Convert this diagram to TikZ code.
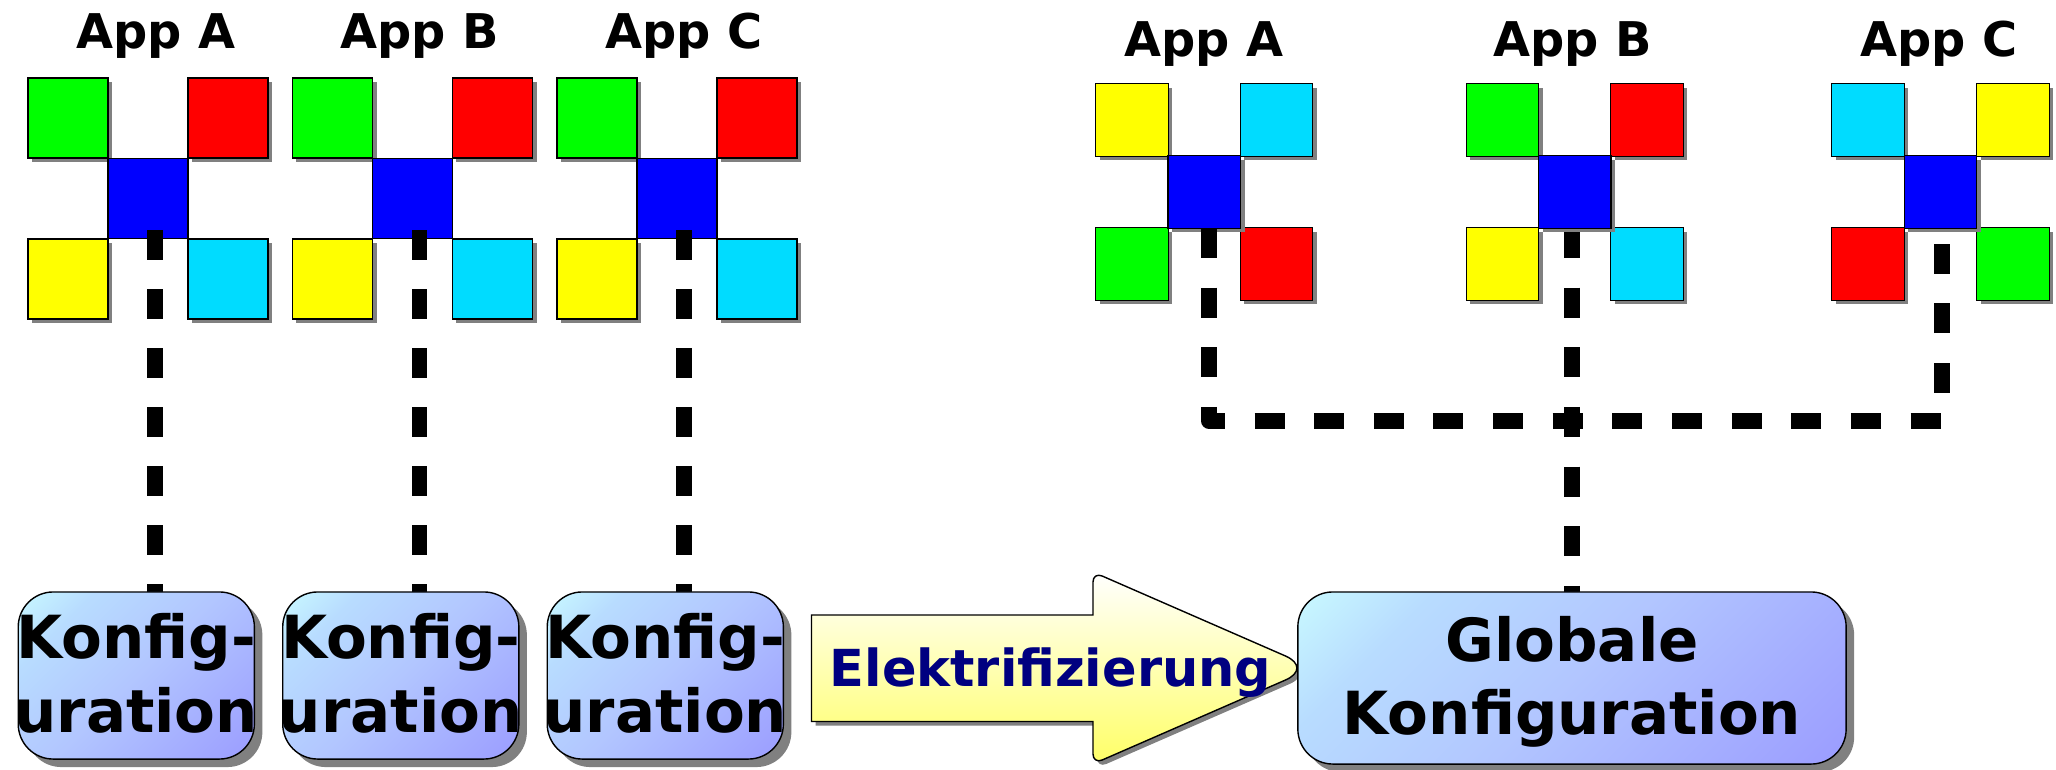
\documentclass[tikz,border=0pt]{standalone}
\usepackage{fontspec}
\setmainfont{DejaVu Sans}
\usetikzlibrary{shadows}
\definecolor{hell}{HTML}{CCFFFF}
\definecolor{hellblau}{HTML}{B8DCFF}
\definecolor{mitte}{HTML}{B2C6FF}
\definecolor{dunkel}{HTML}{9999FF}
\definecolor{tuerkis}{HTML}{00DCFF}
\definecolor{zitrone}{HTML}{FFFF00}
\definecolor{gelb}{HTML}{FFFF66}
\definecolor{schrift}{HTML}{000080}
\pgfdeclareverticalshading{konf}{100bp}{color(0bp)=(dunkel); color(12bp)=(dunkel); color(50bp)=(mitte); color(72bp)=(hellblau); color(88bp)=(hell); color(100bp)=(hell)}
\newcommand{\zeile}[1]{\makebox[2.3cm]{#1}}

\begin{document}
\begin{tikzpicture}[x=0.01cm, y=-0.01cm,
    shad/.style={drop shadow={shadow xshift=#1, shadow yshift=-#1, fill=gray, opacity=1}},
    sqb/.style={draw=black, fill=#1, inner sep=0pt, minimum size=0.8cm, line width=0.4pt},
    sq/.style={sqb=#1, shad=0.04cm},
    sm/.style={sq=#1, minimum size=0.725cm},
    app/.style={anchor=base, font=\bfseries\fontsize{13.6}{16}\selectfont},
    conf/.style={draw=black, line width=0.4pt, rounded corners=0.35cm, shad=0.08cm, inner sep=0pt,
      shade, shading=konf, shading angle=45, align=center,
      font=\bfseries\fontsize{16.9}{20.8}\selectfont},
    dl/.style={line width=0.155cm, dash pattern=on 0.3cm off #1},
    dl/.default=0.29cm]
    \useasboundingbox (0,0) rectangle (2056,769);
    \node[app] (t1) at (156,48) {App A};
    \node[app] (t2) at (420,48) {App B};
    \node[app] (t3) at (684,48) {App C};
    \node[app] (t4) at (1204,56.5) {App A};
    \node[app] (t5) at (1573,56.5) {App B};
    \node[app] (t6) at (1939,56.5) {App C};
    \node[sq=green] (a1) at (68,118) {};
    \node[sq=red] (a2) at (228,118) {};
    \node[sq=zitrone] (a3) at (68,279) {};
    \node[sq=tuerkis] (a4) at (228,279) {};
    \node[sqb=blue] (a5) at (148,198.5) {};
    \node[sq=green] (b1) at (332.5,118) {};
    \node[sq=red] (b2) at (492.5,118) {};
    \node[sq=zitrone] (b3) at (332.5,279) {};
    \node[sq=tuerkis] (b4) at (492.5,279) {};
    \node[sqb=blue] (b5) at (412.5,198.5) {};
    \node[sq=green] (c1) at (597,118) {};
    \node[sq=red] (c2) at (757,118) {};
    \node[sq=zitrone] (c3) at (597,279) {};
    \node[sq=tuerkis] (c4) at (757,279) {};
    \node[sqb=blue] (c5) at (677,198.5) {};
    \node[sm=zitrone] (d1) at (1132,120) {};
    \node[sm=tuerkis] (d2) at (1276.5,120) {};
    \node[sm=green] (d3) at (1132,264) {};
    \node[sm=red] (d4) at (1276.5,264) {};
    \node[sm=blue] (d5) at (1204.3,192) {};
    \node[sm=green] (e1) at (1502.5,120) {};
    \node[sm=red] (e2) at (1647,120) {};
    \node[sm=zitrone] (e3) at (1502.5,264) {};
    \node[sm=tuerkis] (e4) at (1647,264) {};
    \node[sm=blue] (e5) at (1574.8,192) {};
    \node[sm=tuerkis] (f1) at (1868,120) {};
    \node[sm=zitrone] (f2) at (2013,120) {};
    \node[sm=red] (f3) at (1868,264) {};
    \node[sm=green] (f4) at (2013,264) {};
    \node[sm=blue] (f5) at (1940.5,192) {};
    % Anschluesse
    \coordinate (s1) at (155,230);
    \coordinate (s2) at (419.5,230);
    \coordinate (s3) at (684,230);
    \coordinate (z1) at (155,592);
    \coordinate (z2) at (419.5,592);
    \coordinate (z3) at (684,592);
    \coordinate (s4) at (1209,228);
    \coordinate (s5) at (1572,232);
    \coordinate (z5) at (1572,592);
    \coordinate (s6) at (1942,243);
    \coordinate (m4) at (1209,421);
    \coordinate (m6) at (1942,421);
    \draw[dl] (s1) -- (z1);
    \draw[dl] (s2) -- (z2);
    \draw[dl] (s3) -- (z3);
    \draw[dl=0.296cm, line join=round] (s4) -- (m4) -- (m6) -- (s6);
    \draw[dl=0.296cm, dash phase=0.04cm] (s5) -- (z5);
    % Pfeil
    \path[draw=black, line width=0.4pt, top color=white, bottom color=gelb, shad=0.04cm]
      (811.5,615) -- (1093,615) [rounded corners=0.1cm] -- (1093,572)
      [rounded corners=0.3cm] -- (1313,668) [rounded corners=0.1cm] -- (1093,764)
      [sharp corners] -- (1093,721.5) -- (811.5,721.5) -- cycle;
    \node[anchor=base, text=schrift, font=\bfseries\fontsize{14.5}{17}\selectfont] (p) at (1050.5,686) {Elektrifizierung};
    \node[conf, minimum width=2.36cm, minimum height=1.67cm] (k1) at (136.3,675.5) {\zeile{Konfig-}\\\zeile{uration}\rule[-1.5pt]{0pt}{0pt}};
    \node[conf, minimum width=2.36cm, minimum height=1.67cm] (k2) at (400.8,675.5) {\zeile{Konfig-}\\\zeile{uration}\rule[-1.5pt]{0pt}{0pt}};
    \node[conf, minimum width=2.36cm, minimum height=1.67cm] (k3) at (665.3,675.5) {\zeile{Konfig-}\\\zeile{uration}\rule[-1.5pt]{0pt}{0pt}};
    \node[conf, minimum width=5.48cm, minimum height=1.72cm] (k4) at (1572,678) {\rule{0pt}{15pt}Globale\\Konfiguration};
  \end{tikzpicture}
\end{document}
